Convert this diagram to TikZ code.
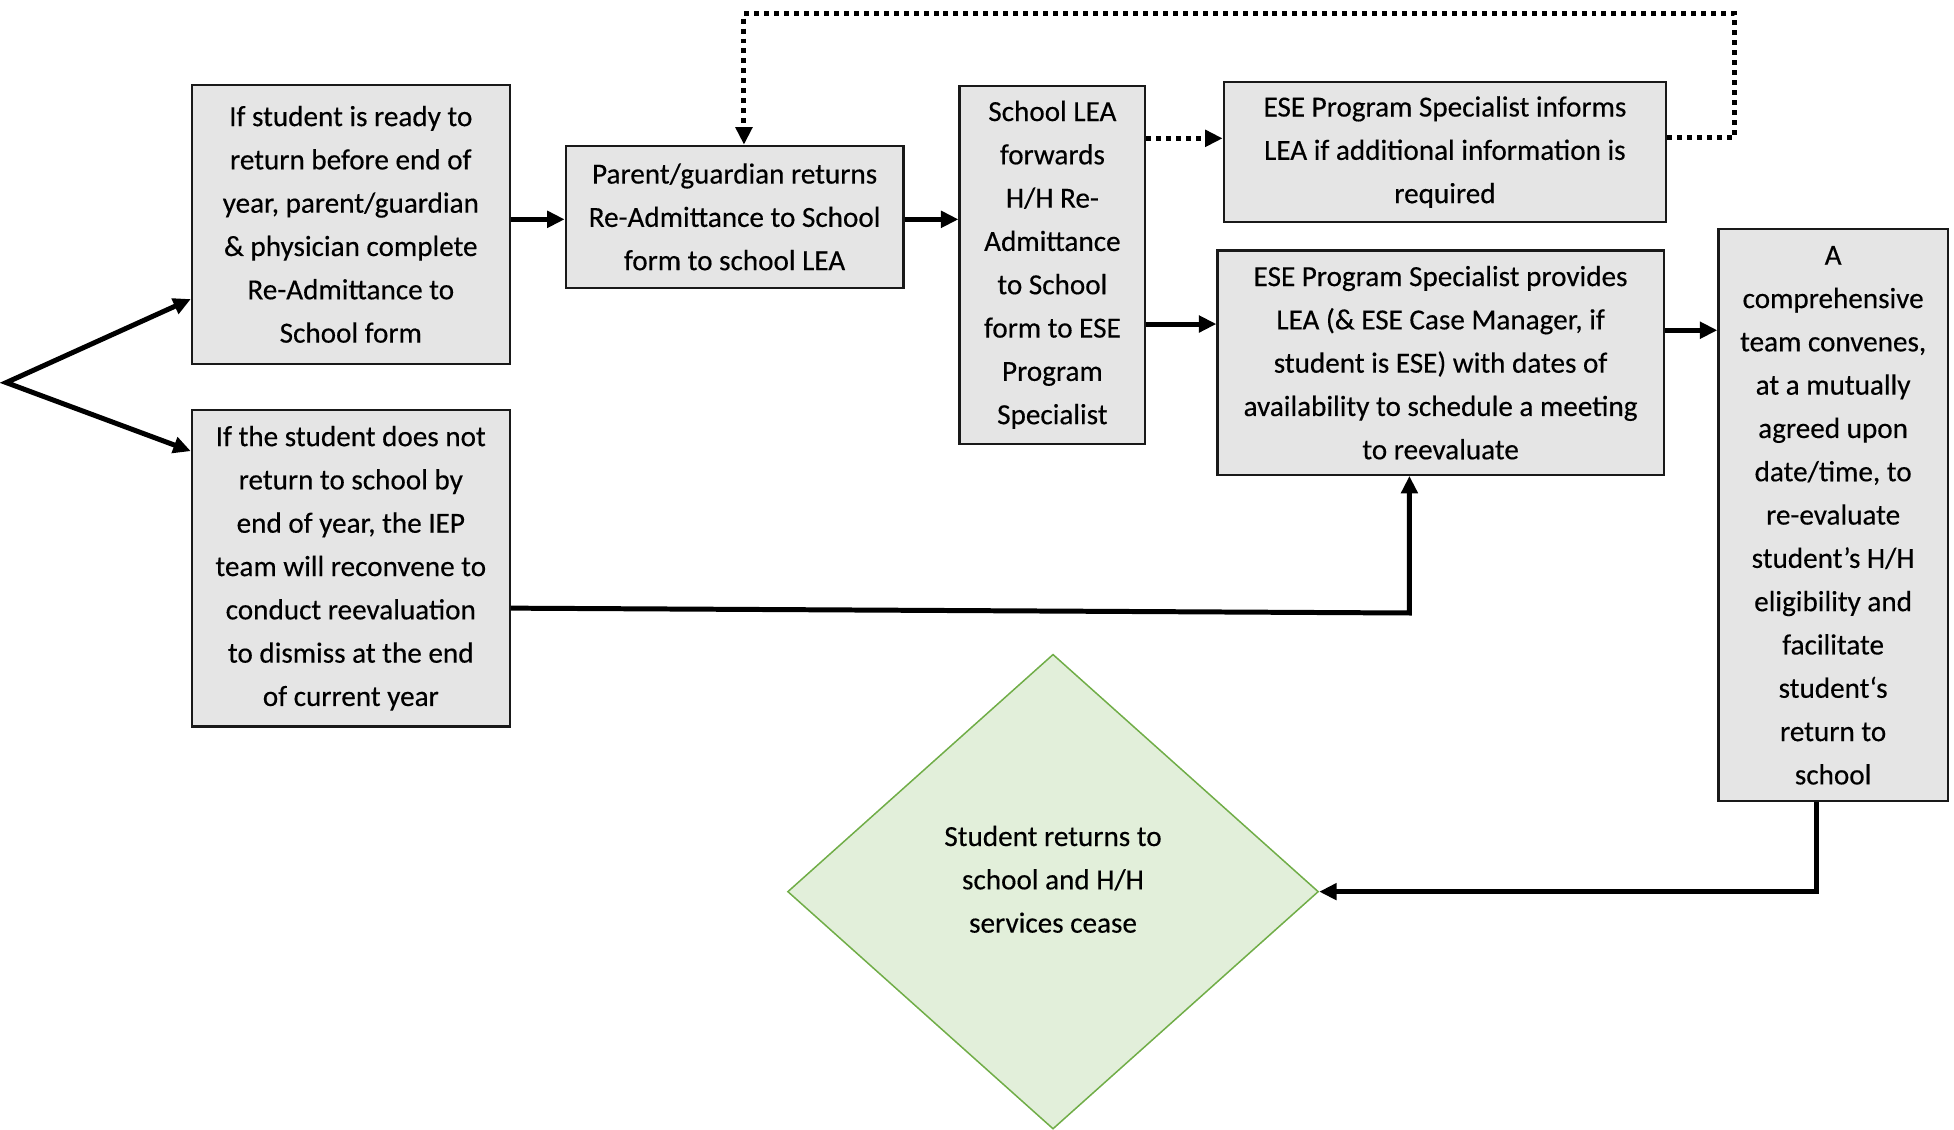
\documentclass[tikz,border=0pt]{standalone}
\usepackage{fontspec}
\setmainfont{Carlito}
\newfontfamily\boxfont{Carlito}[FakeBold=0.35]
\usetikzlibrary{arrows.meta,shapes.geometric}
\definecolor{boxfill}{HTML}{E5E5E5}
\definecolor{dfill}{HTML}{E2EFDA}
\definecolor{dline}{HTML}{70AD47}
\begin{document}
\begin{tikzpicture}[x=1pt,y=-1pt,
  box/.style={draw=black!90, line width=1.8pt, fill=boxfill, align=center, inner sep=0pt,
    font=\boxfont\fontsize{23.4}{34.75}\selectfont},
  arr/.style={line width=4pt, -{Triangle[length=14pt,width=13pt]}},
  dotarr/.style={line width=4pt, dash pattern=on 4pt off 4pt, -{Triangle[length=14pt,width=13pt]}},
]
\useasboundingbox (0,0) rectangle (1568,906);

\node[box, minimum width=255pt, minimum height=224pt] (b1) at (281.5,180)
  {If student is ready to\\return before end of\\year, parent/guardian\\\& physician complete\\Re-Admittance to\\School form};
\node[box, minimum width=255pt, minimum height=254pt] (b2) at (281.5,456)
  {If the student does not\\return to school by\\end of year, the IEP\\team will reconvene to\\conduct reevaluation\\to dismiss at the end\\of current year};
\node[box, minimum width=271pt, minimum height=114pt] (b3) at (589.5,174)
  {Parent/guardian returns\\Re-Admittance to School\\form to school LEA};
\node[box, minimum width=149pt, minimum height=287pt] (b4) at (844.5,212.5)
  {School LEA\\forwards\\H/H Re-\\Admittance\\to School\\form to ESE\\Program\\Specialist};
\node[box, minimum width=355pt, minimum height=112pt] (b5) at (1159.5,122)
  {ESE Program Specialist informs\\LEA if additional information is\\required};
\node[box, minimum width=358pt, minimum height=180pt] (b6) at (1156,291)
  {ESE Program Specialist provides\\LEA (\& ESE Case Manager, if\\student is ESE) with dates of\\availability to schedule a meeting\\to reevaluate};
\node[box, minimum width=184pt, minimum height=459pt] (b7) at (1471,413.5)
  {A\\comprehensive\\team convenes,\\at a mutually\\agreed upon\\date/time, to\\re-evaluate\\student’s H/H\\eligibility and\\facilitate\\student‘s\\return to\\school};
\node[diamond, draw=dline, line width=1.2pt, fill=dfill, minimum width=426pt, minimum height=381pt,
  inner sep=0pt, align=center, font=\boxfont\fontsize{23.4}{34.75}\selectfont] (d) at (845,715.5)
  {Student returns to\\school and H/H\\services cease\\[-14.75pt]\mbox{}};

\coordinate (start) at (5,307);
\coordinate (loopR) at (1392,11);

% branching arrows
\draw[line width=4pt, {Triangle[length=14pt,width=13pt]}-{Triangle[length=14pt,width=13pt]}, line join=miter]
  ([yshift=-60pt]b1.west) -- (start) -- ([yshift=94pt]b2.west);

\draw[arr] ([yshift=4pt]b1.east) -- ([yshift=-2pt]b3.west);
\draw[arr] ([yshift=-2pt]b3.east) -- ([yshift=36.5pt]b4.west);
\draw[dotarr] ([yshift=101.5pt]b4.east) -- ([yshift=11pt]b5.west);
\draw[dotarr] ([yshift=12pt]b5.east) -| (loopR) -| ([xshift=7.5pt]b3.north);
\draw[arr] ([yshift=-47.5pt]b4.east) -- ([yshift=31pt]b6.west);
\draw[arr] ([yshift=26pt]b6.east) -- ([yshift=148.5pt]b7.west);
\draw[arr] ([yshift=-32pt]b2.east) -- ([xshift=-25pt,yshift=-110pt]b6.south) -- ([xshift=-25pt]b6.south);
\draw[arr] ([xshift=-13pt]b7.south) |- (d.east);
\end{tikzpicture}
\end{document}
